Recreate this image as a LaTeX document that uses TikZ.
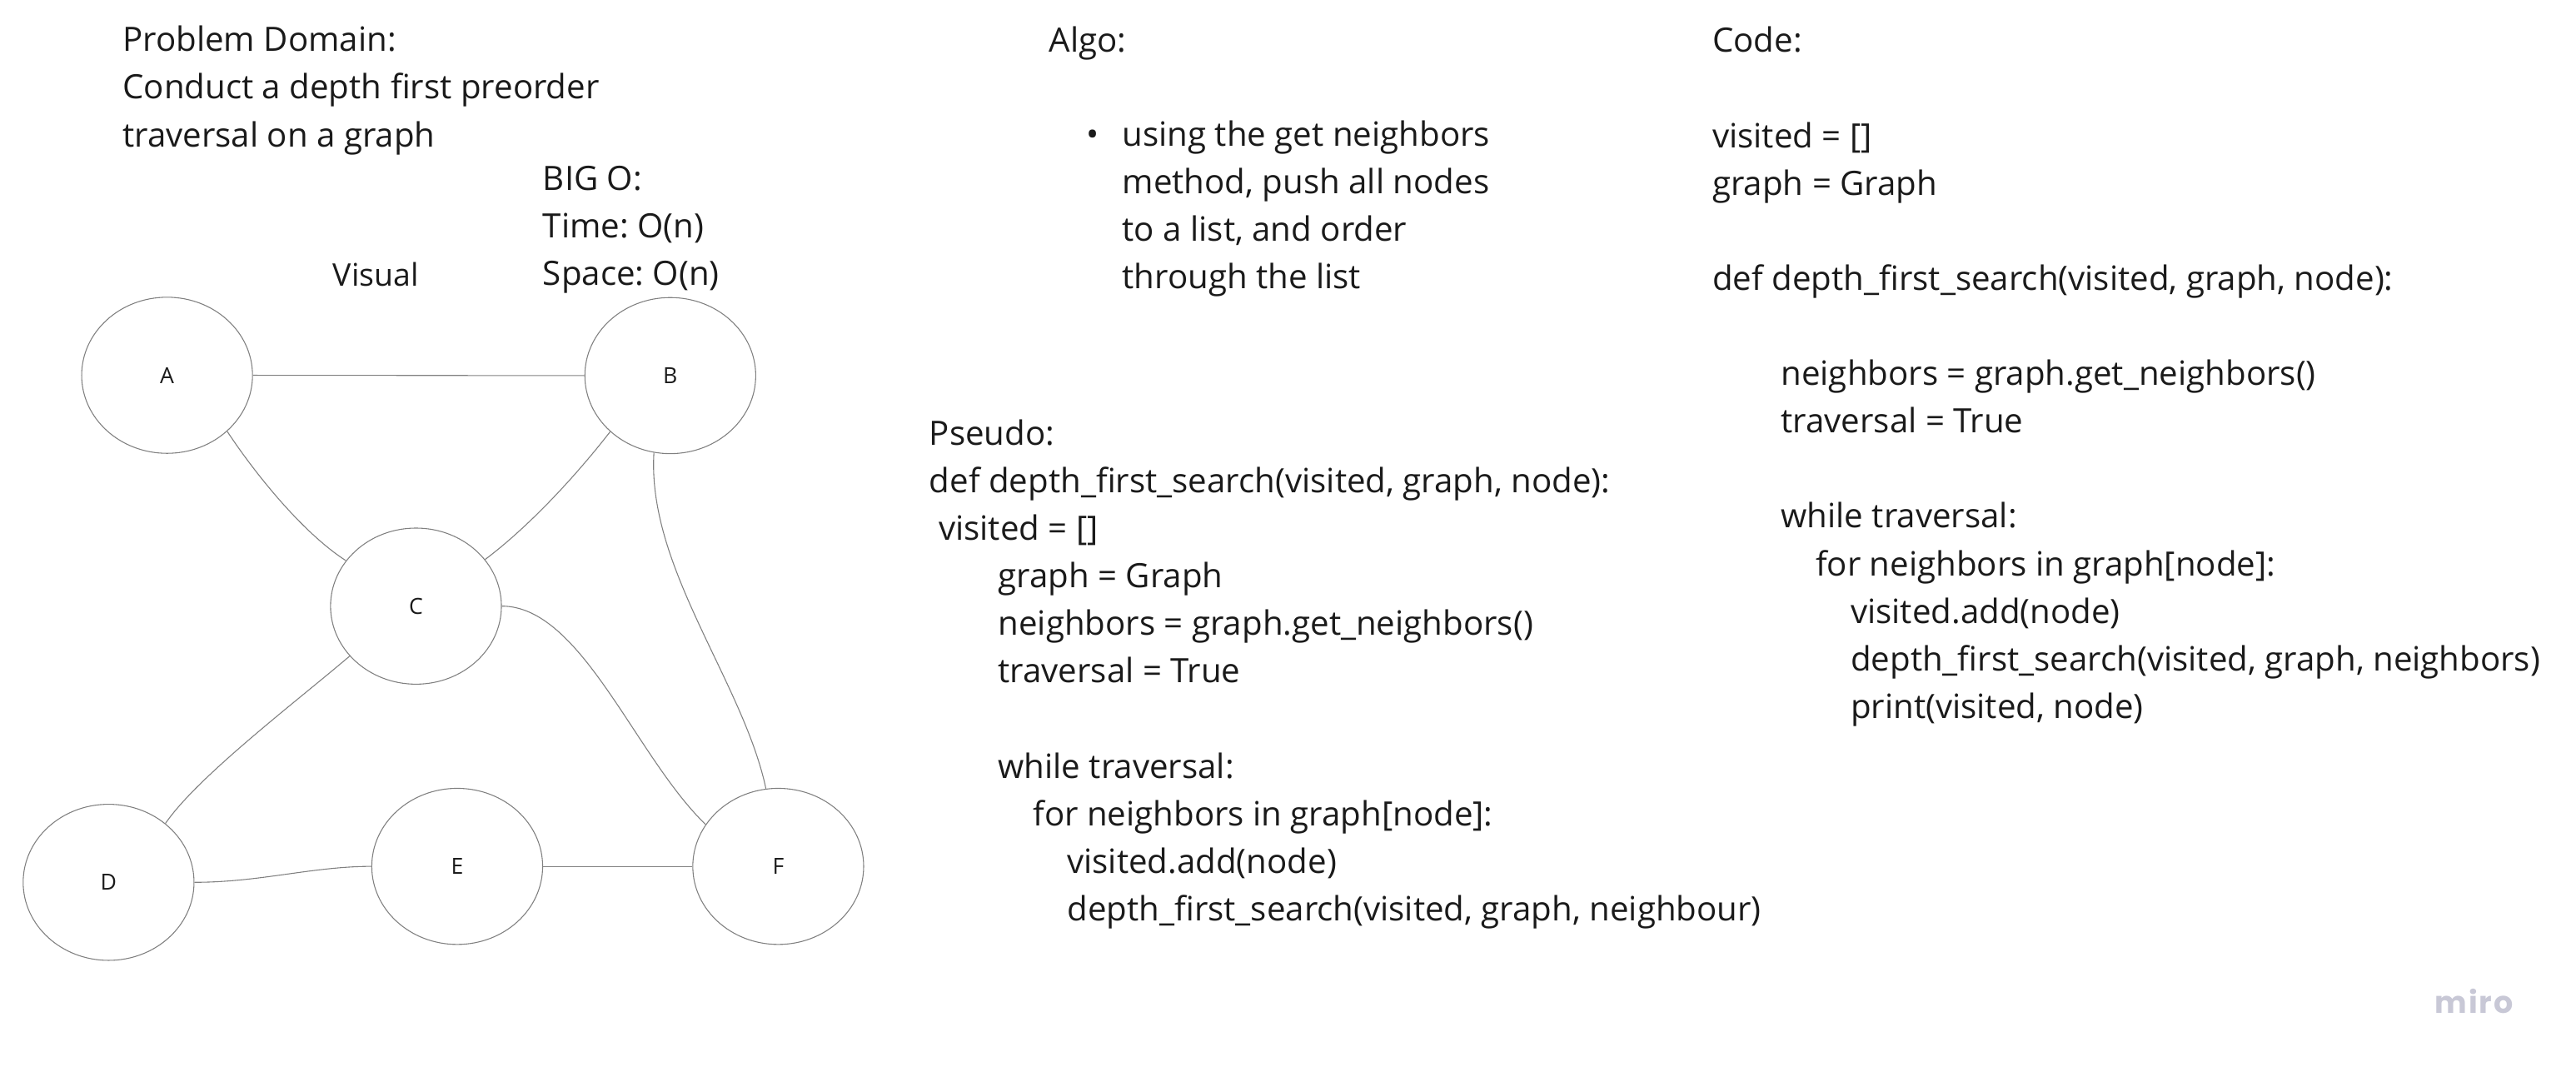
\documentclass[tikz,border=0pt]{standalone}
\usepackage{fontspec}
\setmainfont{Open Sans}
\newfontfamily\logofont{Poppins}[LetterSpace=5]
\usetikzlibrary{shapes.geometric}
\definecolor{ink}{HTML}{1A1A1A}
\definecolor{edgec}{HTML}{808080}
\definecolor{logoc}{HTML}{C8C8D6}
\frenchspacing
\begin{document}
\frenchspacing
\begin{tikzpicture}[x=1pt,y=-1pt,
  txt/.style={anchor=base west, inner sep=0pt, text=ink, font=\fontsize{20.4}{24}\selectfont\frenchspacing},
  vtx/.style={draw=edgec, line width=0.55pt, ellipse, minimum width=104pt, minimum height=95pt, inner sep=0pt, text=ink, font=\fontsize{13.5}{16}\selectfont},
  edge/.style={draw=edgec, line width=0.55pt}]
\useasboundingbox (0,0) rectangle (1568,655);

% ---- header texts
\node[txt] (pd0) at (74.5,31.3) {Problem Domain:};
\node[txt] (pd1) at (74.5,60.3) {Conduct a depth first preorder};
\node[txt] (pd2) at (74.5,89.3) {traversal on a graph};
\node[txt] (bo0) at (330.3,115.8) {BIG O:};
\node[txt] (bo1) at (330.3,144.6) {Time: O(n)};
\node[txt] (bo2) at (330.3,173.4) {Space: O(n)};
\node[txt, font=\fontsize{19}{24}\selectfont] (vis) at (202.5,174) {Visual};

% ---- Algo
\node[txt] (al0) at (638.5,31.8) {Algo:};
\node[txt] (bul) at (661,88.9) {•};
\node[txt] (al1) at (683,88.9) {using the get neighbors};
\node[txt] (al2) at (683,117.9) {method, push all nodes};
\node[txt] (al3) at (683,146.9) {to a list, and order};
\node[txt] (al4) at (683,175.9) {through the list};

% ---- Pseudo
\foreach \n/\x/\k/\t in {
  ps0/565.5/0/{Pseudo:},
  ps1/565.5/1/{def depth\_first\_search(visited, graph, node):},
  ps2/571.2/2/{visited = []},
  ps3/607.4/3/{graph = Graph},
  ps4/607.4/4/{neighbors = graph.get\_neighbors()},
  ps5/607.4/5/{traversal = True},
  ps7/607.4/7/{while traversal:},
  ps8/628.6/8/{for neighbors in graph[node]:},
  ps9/649.4/9/{visited.add(node)},
  ps10/649.4/10/{depth\_first\_search(visited, graph, neighbour)}}
  \node[txt] (\n) at (\x,{270.9+28.95*\k}) {\t};

% ---- Code
\foreach \n/\x/\k/\t in {
  cd0/1042.2/0/{Code:},
  cd2/1042.2/2/{visited = []},
  cd3/1042.2/3/{graph = Graph},
  cd5/1042.2/5/{def depth\_first\_search(visited, graph, node):},
  cd7/1083.9/7/{neighbors = graph.get\_neighbors()},
  cd8/1083.9/8/{traversal = True},
  cd10/1083.9/10/{while traversal:},
  cd11/1105/11/{for neighbors in graph[node]:},
  cd12/1126.3/12/{visited.add(node)},
  cd13/1126.3/13/{depth\_first\_search(visited, graph, neighbors)},
  cd14/1126.3/14/{print(visited, node)}}
  \node[txt] (\n) at (\x,{31.9+28.95*\k}) {\t};

% ---- graph vertices
\node[vtx] (A) at (101.7,228.4) {A};
\node[vtx] (B) at (408,228.6) {B};
\node[vtx] (C) at (253.2,368.9) {C};
\node[vtx] (D) at (66.1,537) {D};
\node[vtx] (E) at (278.3,527.3) {E};
\node[vtx] (F) at (473.7,527.3) {F};

% ---- graph edges
\draw[edge] (A.east) -- (B.west);
\draw[edge] (E.east) -- (F.west);
\draw[edge] (A.-43) .. controls +(17,25.8) and +(-26.2,-16.8) .. (C.147.2);
\draw[edge] (B.223.7) .. controls +(-17.3,22.3) and +(29.8,-22.4) .. (C.34.2);
\draw[edge] (B.258.2) .. controls +(-4.3,70) and +(-13.8,-65) .. (F.99.5);
\draw[edge] (C.0) .. controls +(48.5,0) and +(-42.8,-41.2) .. (F.150.4);
\draw[edge] (C.217.6) .. controls +(-33.4,28.4) and +(19.4,-28.4) .. (D.46.7);
\draw[edge] (D.0) .. controls +(40,0) and +(-36,0) .. (E.180);

% ---- logo
\node[anchor=base west, inner sep=0pt, text=logoc, font=\logofont\bfseries\fontsize{18.5}{22}\selectfont] (logo) at (1482,616.8) {miro};
\end{tikzpicture}
\end{document}
